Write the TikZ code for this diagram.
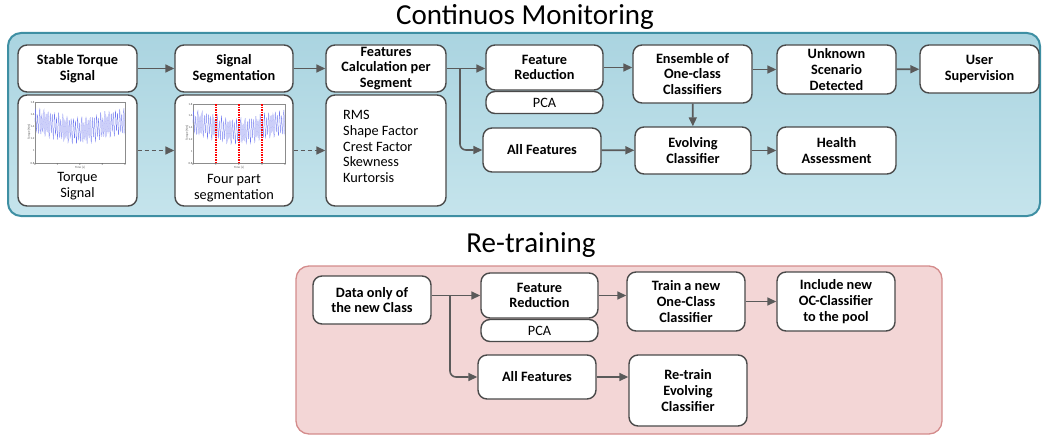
\documentclass[tikz,border=0pt]{standalone}
\usepackage{fontspec}
\setmainfont{Carlito}
\usetikzlibrary{arrows.meta}
\definecolor{edge}{HTML}{4A4A4A}
\definecolor{arr}{HTML}{5A5A5A}
\definecolor{bluefillA}{HTML}{AAD4E0}
\definecolor{bluefillB}{HTML}{C5E4EC}
\definecolor{blueedge}{HTML}{3E8FA3}
\definecolor{pinkfill}{HTML}{F3D6D6}
\definecolor{pinkedge}{HTML}{D48C8C}
\definecolor{sigblue}{HTML}{6F78F0}
\tikzset{
  box/.style={draw=edge, line width=1.4pt, rounded corners=9pt, fill=white, align=center,
    inner sep=0pt, font=\fontsize{14.3}{15.8}\selectfont\bfseries},
  regbox/.style={box, font=\fontsize{14.3}{15.8}\selectfont},
  flow/.style={draw=arr, line width=1.6pt, -{Triangle[length=9pt,width=8pt]}},
  dflow/.style={flow, dash pattern=on 4pt off 3pt},
  ttl/.style={font=\fontsize{29}{32}\selectfont},
  lbl/.style={font=\fontsize{14.3}{15.8}\selectfont, align=center, inner sep=0pt},
  tick/.style={font=\fontsize{3}{3}\selectfont, inner sep=0.5pt, text=black!70},
  sig/.style={sigblue, line width=0.25pt},
  redcut/.style={red, line width=1.1pt, dash pattern=on 1.5pt off 1pt},
}
\begin{document}
\begin{tikzpicture}[x=1pt,y=-1pt]
\useasboundingbox (0,0) rectangle (1048,436);
% titles
\node[ttl] (t1) at (525,17) {Continuos Monitoring};
\node[ttl] (t2) at (531,245) {Re-training};
% panels
\draw[blueedge, line width=2pt, rounded corners=13pt, top color=bluefillA, bottom color=bluefillB] (8,33) rectangle (1040,216);
\draw[pinkedge, line width=1.3pt, rounded corners=13pt, fill=pinkfill] (296,266) rectangle (942,434);

% top row nodes
\node[box, minimum width=119pt, minimum height=47pt] (sts) at (77.5,68.5) {Stable Torque\\Signal};
\node[box, minimum width=119pt, minimum height=111pt] (tplot) at (77.5,150.5) {};
\node[box, minimum width=118pt, minimum height=47pt] (seg) at (234,68.5) {Signal\\Segmentation};
\node[box, minimum width=118pt, minimum height=111pt] (segplot) at (234,150.5) {};
\node[box, minimum width=120pt, minimum height=47pt] (feat) at (386,68.5) {Features\\Calculation per\\Segment};
\node[box, minimum width=120pt, minimum height=111pt] (featlist) at (386,150.5) {};
\node[lbl, align=left, anchor=north west] (flist) at (343,110) {RMS\\Shape Factor\\Crest Factor\\Skewness\\Kurtorsis};
\node[box, minimum width=117pt, minimum height=45pt] (fr) at (544.5,67.5) {Feature\\Reduction};
\node[regbox, minimum width=117pt, minimum height=22pt] (pca) at (544.5,102.5) {PCA};
\node[box, minimum width=118pt, minimum height=44pt] (allf) at (542,150) {All Features};
\node[box, minimum width=119pt, minimum height=58pt] (ens) at (692.5,74) {Ensemble of\\One-class\\Classifiers};
\node[box, minimum width=119pt, minimum height=49pt] (unk) at (836.5,69.5) {Unknown\\Scenario\\Detected};
\node[box, minimum width=119pt, minimum height=48pt] (user) at (979.5,69) {User\\Supervision};
\node[box, minimum width=116pt, minimum height=47pt] (evo) at (693,150.5) {Evolving\\Classifier};
\node[box, minimum width=119pt, minimum height=47pt] (health) at (836.5,150.5) {Health\\Assessment};

% plot labels
\node[lbl] (tl) at (77.5,186) {Torque\\Signal};
\node[lbl] (sl) at (234,188) {Four part\\segmentation};

% plot 1
\draw[black!45, line width=0.3pt] (35,102) rectangle (125,163);
\draw[sig] plot[domain=0:4, samples=260] ({35+22.5*\x}, {163-61*(0.6+0.07*cos(92*\x)+0.19*sin(3852*\x)+0.05*sin(2120*\x))});
\foreach \v/\l in {0.8/0.8,1/1,1.2/1.2,1.4/1.4,1.6/1.6,1.8/1.8} \node[tick, anchor=east] at (35,{163-61*(\v-0.8)}) {\l};
\foreach \t in {0,1,2,3,4} \node[tick, anchor=north] at ({35+22.5*\t},163) {\t};
\node[tick, rotate=90] at (29,132) {Torque [Nm]};
\node[tick] at (80,168) {Time [s]};
% plot 2
\draw[black!45, line width=0.3pt] (193,104) rectangle (285,163);
\draw[sig] plot[domain=0:4, samples=260] ({193+23*\x}, {163-59*(0.6+0.07*cos(92*\x)+0.19*sin(3852*\x)+0.05*sin(2120*\x))});
\foreach \v/\l in {0.8/0.8,1/1,1.2/1.2,1.4/1.4,1.6/1.6,1.8/1.8} \node[tick, anchor=east] at (193,{163-59*(\v-0.8)}) {\l};
\foreach \t in {0,1,2,3,4} \node[tick, anchor=north] at ({193+23*\t},163) {\t};
\node[tick, rotate=90] at (187,133) {Torque [Nm]};
\node[tick] at (239,168) {Time [s]};
\foreach \xx in {216,239,262} \draw[redcut] (\xx,104) -- (\xx,163);

% top arrows
\draw[flow] (sts) -- (seg);
\draw[flow] (seg) -- (feat);
\coordinate (b1) at (460,68.5);
\draw[flow] (feat.east) -- (fr.west |- feat.east);
\draw[flow, rounded corners=6pt] (b1) |- (allf.west);
\draw[flow] (fr.east) -- (ens.west |- fr.east);
\draw[flow] (ens.east |- unk.west) -- (unk.west);
\draw[flow] (unk) -- (user);
\draw[flow] (ens) -- (evo);
\draw[flow] (allf) -- (evo);
\draw[flow] (evo) -- (health);
\draw[dflow] (tplot) -- (segplot);
\draw[dflow] (segplot) -- (featlist);

% bottom nodes
\node[box, minimum width=118pt, minimum height=48pt] (data) at (372,300) {Data only of\\the new Class};
\node[box, minimum width=117pt, minimum height=45pt] (fr2) at (539.5,295.5) {Feature\\Reduction};
\node[regbox, minimum width=117pt, minimum height=22pt] (pca2) at (539.5,330.5) {PCA};
\node[box, minimum width=118pt, minimum height=44pt] (allf2) at (537,377) {All Features};
\node[box, minimum width=118pt, minimum height=59pt] (train) at (686,301.5) {Train a new\\One-Class\\Classifier};
\node[box, minimum width=118pt, minimum height=59pt] (incl) at (836,301.5) {Include new\\OC-Classifier\\to the pool};
\node[box, minimum width=118pt, minimum height=71pt] (retrain) at (688,390.5) {Re-train\\Evolving\\Classifier};

% bottom arrows
\coordinate (b2) at (450,296);
\draw[flow] (data.east |- fr2.west) -- (fr2.west);
\draw[flow, rounded corners=6pt] (b2) |- (allf2.west);
\draw[flow] (fr2.east) -- (train.west |- fr2.east);
\draw[flow] (train) -- (incl);
\draw[flow] (allf2) -- (retrain.west |- allf2.east);
\end{tikzpicture}
\end{document}
